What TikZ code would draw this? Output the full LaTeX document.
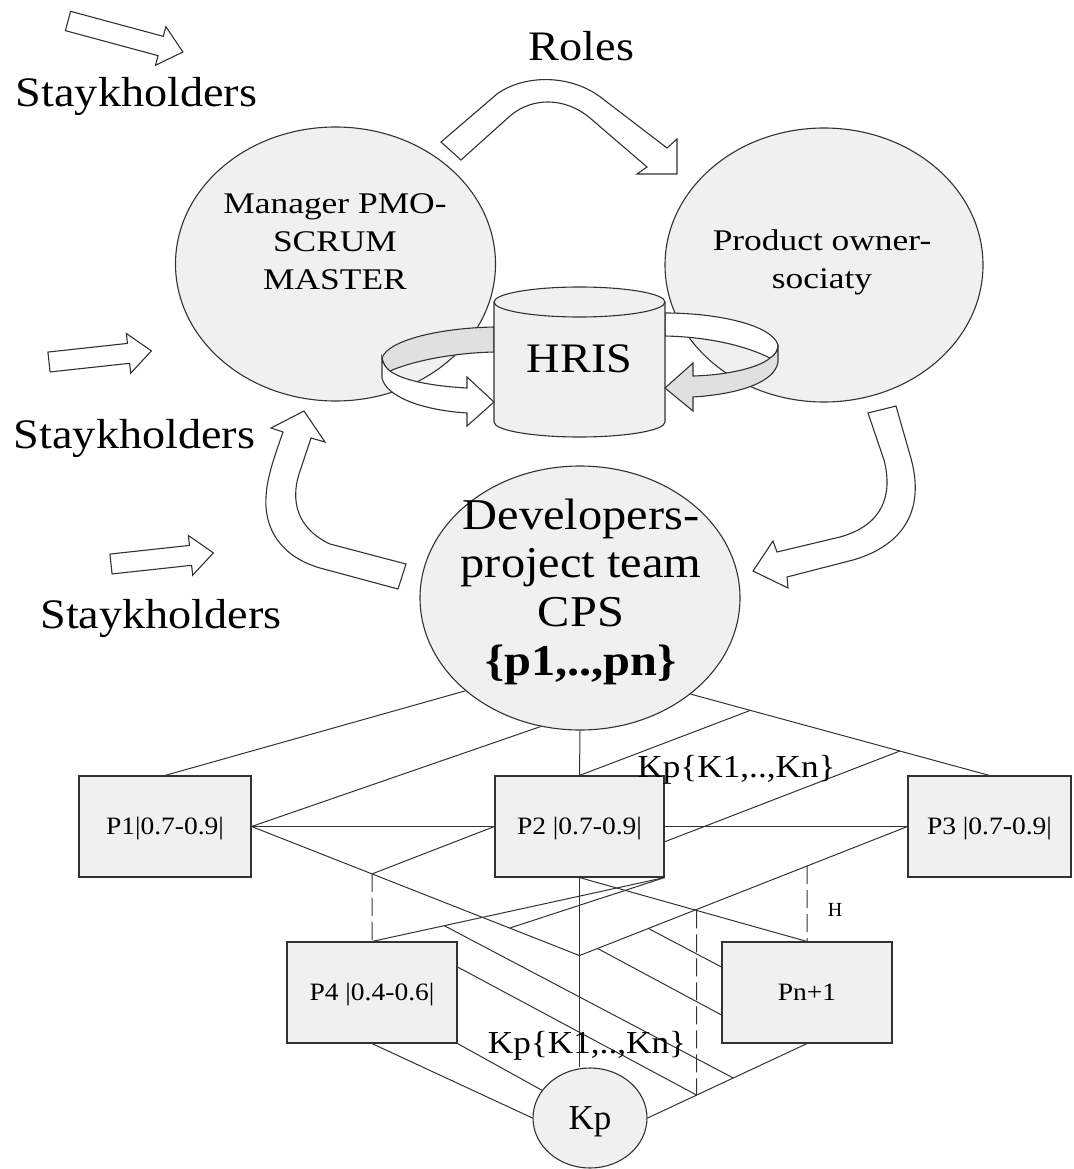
\documentclass[tikz,border=0pt]{standalone}
\usepackage{fontspec}
\setmainfont{Liberation Serif}
\newfontfamily\serifwide[FakeStretch=1.1]{Liberation Serif}
\newfontfamily\serifwider[FakeStretch=1.18]{Liberation Serif}
\usetikzlibrary{calc,shapes.geometric}
\definecolor{inkline}{RGB}{50,50,50}
\definecolor{shapefill}{RGB}{240,240,240}
\definecolor{bandgray}{RGB}{224,224,224}
\begin{document}
\begin{tikzpicture}[x=1pt, y=-1pt,
  ink/.style={draw=inkline, line width=1.1pt},
  link/.style={draw=inkline, line width=1pt},
  dashlink/.style={link, dash pattern=on 18pt off 6pt},
  hollowarrow/.style={ink, fill=white, line join=miter},
  bubble/.style={ellipse, ink, fill=shapefill, inner sep=0pt},
  pbox/.style={rectangle, ink, fill=shapefill, inner sep=0pt, minimum height=101,
    text height=16.5pt, text depth=0pt, font=\serifwide\fontsize{25}{30}\selectfont},
  bigword/.style={font=\serifwide\fontsize{42}{50}\selectfont, inner sep=0pt, anchor=base},
  kplabel/.style={font=\serifwide\fontsize{32}{38}\selectfont, inner sep=0pt, anchor=base},
  pics/flatarrow/.style={code={
    \draw[hollowarrow] (0,-10) -- (#1-23,-10) -- (#1-23,-20) -- (#1,0)
      -- (#1-23,20) -- (#1-23,10) -- (0,10) -- cycle;}},
]
\useasboundingbox (0,0) rectangle (1073,1169);

% stakeholder inputs
\pic[rotate=-15.1] at (68,21) {flatarrow=119};
\pic[rotate=6.2] at (49,362) {flatarrow=103};
\pic[rotate=6.2] at (111,564) {flatarrow=103};
\node[bigword] (sh1) at (136.5,107) {Staykholders};
\node[bigword] (sh2) at (134.5,448) {Staykholders};
\node[bigword] (sh3) at (161,628) {Staykholders};
\node[bigword] (roles) at (581.5,61) {Roles};

% roles arrow between the two role bubbles
\draw[hollowarrow] (441,142) -- (497,94) .. controls (525,74) and (572,74) .. (603,99)
  -- (667,148) -- (677,139) -- (677,174) -- (637,174) -- (647,167)
  -- (590,118) .. controls (565,97) and (532,97) .. (510,116) -- (461,160) -- cycle;

% role bubbles
\node[bubble, minimum width=320, minimum height=274] (mgr) at (335.5,264) {};
\node[bubble, minimum width=318, minimum height=274] (own) at (824,265) {};
\node[anchor=base, inner sep=0pt, font=\serifwider\fontsize{30}{38}\selectfont] (mgrtext)
  at (335,213) {\begin{tabular}[t]{@{}c@{}}Manager PMO-\\SCRUM\\MASTER\end{tabular}};
\node[anchor=base, inner sep=0pt, font=\serifwider\fontsize{30}{38}\selectfont] (owntext)
  at (822,250) {\begin{tabular}[t]{@{}c@{}}Product owner-\\sociaty\end{tabular}};

% back halves of the rings around HRIS
\draw[ink, fill=bandgray] (494,327) .. controls (440,328) and (388,340) .. (382,358)
  .. controls (383,364) and (386,368) .. (390,371)
  .. controls (410,362) and (450,353) .. (494,352) -- cycle;
\draw[ink, fill=white] (665,313) .. controls (718,313) and (772,325) .. (778,345)
  .. controls (778,351) and (775,355) .. (770,358)
  .. controls (748,347) and (712,337) .. (665,336) -- cycle;

% HRIS cylinder
\fill[shapefill] (494,302) -- (494,422) .. controls (494,430.3) and (532.3,437) .. (579.5,437)
  .. controls (626.7,437) and (665,430.3) .. (665,422) -- (665,302) -- cycle;
\draw[ink] (494,302) -- (494,422) .. controls (494,430.3) and (532.3,437) .. (579.5,437)
  .. controls (626.7,437) and (665,430.3) .. (665,422) -- (665,302);
\draw[ink, fill=shapefill] (579.5,302) ellipse [x radius=85.5, y radius=15];
\node[inner sep=0pt, text height=27.8pt, text depth=0pt,
  font=\serifwide\fontsize{42}{50}\selectfont] (hris) at (579.5,359) {HRIS};

% front halves of the rings, ending in arrow heads
\draw[hollowarrow] (382,358) -- (382,378) .. controls (386,396) and (420,410) .. (467,413)
  -- (467,426) -- (494,402) -- (467,377) -- (467,388)
  .. controls (430,386) and (402,380) .. (390,371)
  .. controls (386,368) and (383,364) .. (382,358) -- cycle;
\draw[ink, fill=bandgray, line join=miter] (778,345) -- (778,362)
  .. controls (775,382) and (740,394) .. (693,397)
  -- (693,411) -- (665,388) -- (693,363) -- (693,376)
  .. controls (730,375) and (760,367) .. (770,358)
  .. controls (775,355) and (778,351) .. (778,345) -- cycle;

% project team bubble
\node[bubble, minimum width=320, minimum height=264] (dev) at (580,598) {};
\node[anchor=base, inner sep=0pt, font=\serifwide\fontsize{44}{48.7}\selectfont] (devtext)
  at (581,529) {\begin{tabular}[t]{@{}c@{}}Developers-\\project team\\CPS\\\textbf{\{p1,..,pn\}}\end{tabular}};

% feedback arrows around the project team
\draw[hollowarrow] (398,589) -- (320,568) .. controls (282,557) and (264,530) .. (266,497)
  .. controls (267,477) and (274,458) .. (283,432) -- (271,428) -- (304,411) -- (325,442)
  -- (311,438) -- (299,474) .. controls (291,500) and (296,528) .. (330,544) -- (406,564) -- cycle;
\draw[hollowarrow] (868,413) -- (896,406) -- (910,455) .. controls (926,508) and (905,545) .. (853,560)
  -- (787,577) -- (788,588) -- (753,571) -- (773,541) -- (777,552)
  -- (840,537) .. controls (883,525) and (893,495) .. (884,460) -- cycle;

% participants
\node[pbox, minimum width=172] (p1) at (165,826.5) {P1|0.7-0.9|};
\node[pbox, minimum width=169] (p2) at (579.5,826.5) {P2 |0.7-0.9|};
\node[pbox, minimum width=163] (p3) at (989.5,826.5) {P3 |0.7-0.9|};
\node[pbox, minimum width=170] (p4) at (372,992.5) {P4 |0.4-0.6|};
\node[pbox, minimum width=170] (pn) at (807,992.5) {Pn+1};
\node[bubble, minimum width=114, minimum height=100, text height=23.2pt, text depth=0pt,
  font=\fontsize{35}{40}\selectfont] (kp) at (590,1118) {Kp};

% junction points of the competence lattice
\coordinate (j1) at ($(dev.319)!0.2!(p3.north)$);
\coordinate (j2) at ($(dev.319)!0.7!(p3.north)$);
\coordinate (v) at ($(p2.south)+(0,78)$);
\coordinate (v1) at (intersection of p1.east--v and p4.north--p4.south);
\coordinate (v2) at (intersection of v--p3.west and pn.north--pn.south);
\coordinate (k1) at ($(p1.east)!0.787!(v)$);
\coordinate (g) at ($(p4.north)!0.247!(p2.south east)$);
\coordinate (d) at ($(p2.south)!0.515!(pn.north)$);
\coordinate (dlow) at (d |- kp.south);
\coordinate (e) at (intersection of kp.east--pn.south and d--dlow);
\coordinate (f) at ($(kp.east)!0.5375!(pn.south)$);
\coordinate (r1) at ($(v)!0.21!(p3.west)$);
\coordinate (r2) at ($(v)!0.055!(p3.west)$);

% lattice connectors
\draw[link] (dev.219) -- (p1.north);
\draw[link] (dev.253) -- (p1.east);
\draw[link] (dev.south) -- (p2.north);
\draw[link] (dev.319) -- (p3.north);
\draw[link] (j1) -- (p2.north);
\draw[link] (j2) -- ($(p2.north east)!0.65!(p2.south east)$);
\draw[link] (p1.east) -- (p2.west);
\draw[link] (p2.east) -- (p3.west);
\draw[link] (p1.east) -- (v) -- (p3.west);
\draw[link] (p2.west) -- (v1);
\draw[dashlink] (v1) -- (p4.north);
\draw[link] (p4.north) -- (p2.south east);
\draw[link] (k1) -- (p2.south east);
\draw[link] (p2.south) -- (pn.north);
\draw[dashlink] (v2) -- (pn.north);
\draw[link] (p2.south) -- (p2.south |- kp.north);
\draw[link] (r1) -- ($(pn.north west)!0.25!(pn.south west)$);
\draw[link] (r2) -- ($(pn.north west)!0.72!(pn.south west)$);
\draw[link] (kp.east) -- (pn.south);
\draw[dashlink] (d) -- (e);
\draw[link] (g) -- (f);
\draw[link] ($(p4.north east)!0.25!(p4.south east)$) -- (e);
\draw[link] (p4.south) -- (kp.west);
\draw[link] (p4.south east) -- (kp.150);

% labels
\node[kplabel] (kpa) at (736.5,777) {Kp\{K1,..,Kn\}};
\node[kplabel] (kpb) at (587,1053) {Kp\{K1,..,Kn\}};
\node[anchor=base, inner sep=0pt, font=\fontsize{20}{24}\selectfont] (hlabel) at (835,916) {H};
\end{tikzpicture}
\end{document}
